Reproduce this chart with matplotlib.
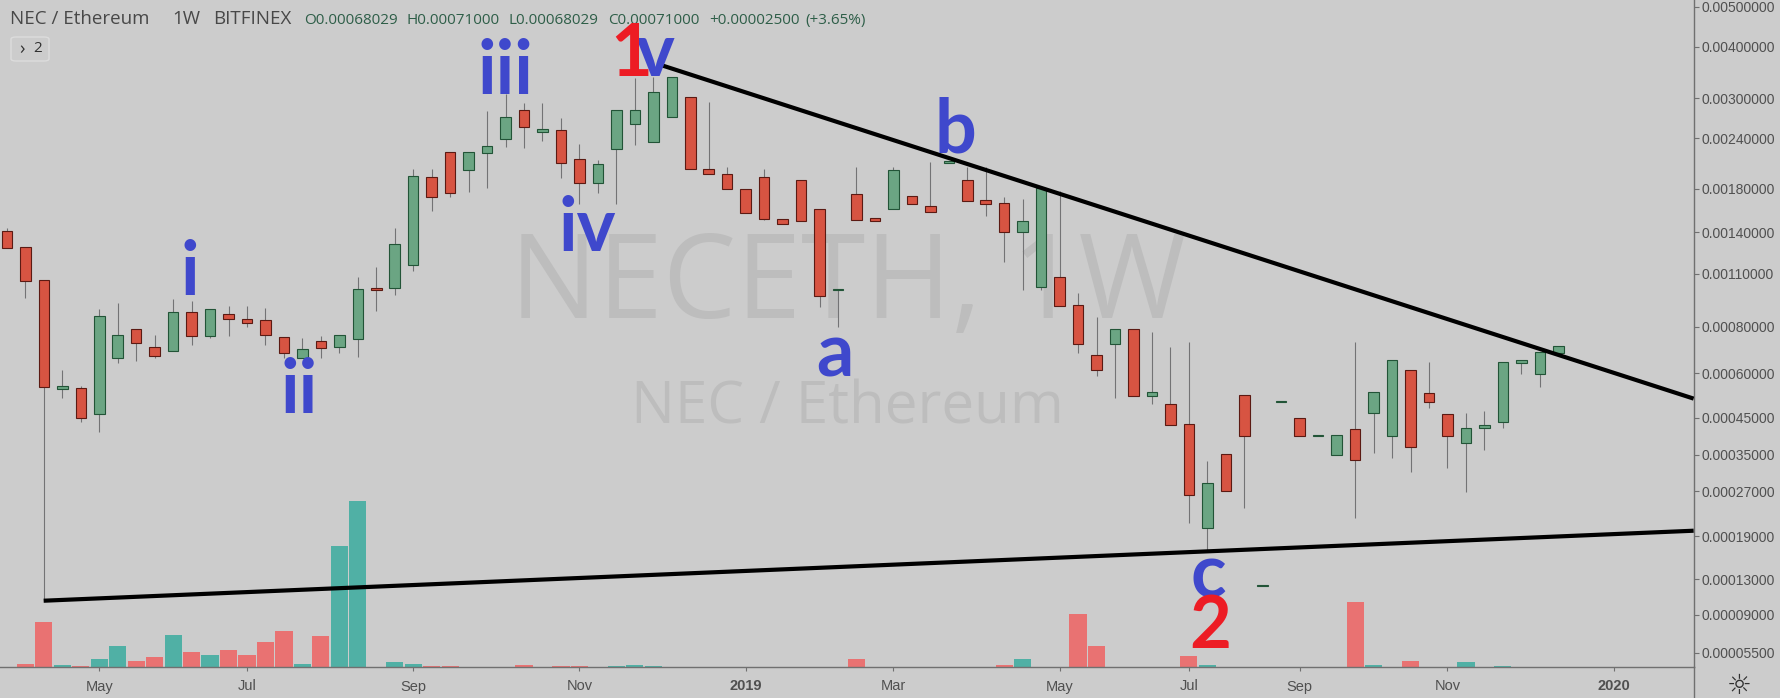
import matplotlib
matplotlib.use("Agg")
import matplotlib.pyplot as plt
import numpy as np

W, H = 1781, 698

# prices in 1e-8 ETH, weekly bars
body_top = [141351,128554,105866,55372,54668,85337,76016,79001,70474,87267,87267,89182,86376,83953,83294,74951,69866,
73266,76016,100531,100771,131054,193597,192167,221517,221517,229563,269908,281687,252272,251703,213620,207638,281687,
281687,310556,337727,301979,201817,196152,180049,192167,151523,189229,160521,100531,174967,151874,200672,172674,163035,
210489,189553,169047,165586,149522,180772,107574,91190,67188,79001,79001,53079,49306,43140,28697,35185,52265,
12259,50179,44982,40072,40072,41723,53079,65127,61169,52942,46184,42088,42854,64198,65127,68580,71042]
body_bot = [127805,105240,55019,54111,44803,46002,66068,72236,66896,68878,75690,75690,83649,81791,75876,67902,66068,
70169,70474,74173,99756,101132,115472,171391,175972,199987,221015,239237,255996,248880,208822,186333,186333,226081,
259920,235215,270821,201129,195817,179740,156863,150998,146949,149781,96418,99756,150128,149781,160243,164921,157770,
208466,168079,164637,140533,140533,101736,90807,71924,61169,71792,51829,51829,42939,26269,20257,26941,39802,
12140,49757,39802,39721,35015,33815,46306,39802,36851,49757,39802,37875,41919,43718,63797,59532,68029]
wick_hi = [143582,128554,105866,61169,55266,89021,92292,79001,76016,94533,93575,89182,90807,90807,89559,74951,74492,
75690,76016,107956,114524,143333,201129,201129,221517,221517,280109,307614,292482,291990,268394,231782,212049,281687,
335846,338861,337727,301979,294622,204127,180049,201129,151523,189229,160521,100531,204127,151874,204127,172674,209297,
210489,204127,204127,171982,169727,180772,177694,97811,84977,79001,79001,77566,70736,72951,33508,35185,52265,
12259,50179,44982,40072,40072,72951,53079,65127,61169,64318,46184,46306,47010,64198,65127,68580,71042]
wick_lo = [127805,95101,10567,51163,43805,40808,63917,64722,65945,68878,71482,74492,75551,79824,71482,65945,65945,
65945,68028,66481,87954,96823,111854,158408,171982,176983,180462,228655,227364,236548,191729,164921,175972,164921,
230865,235215,270821,201129,195817,179740,156863,150389,146949,149781,90263,79970,150128,149781,160243,164921,157770,
208466,168079,153904,117944,99756,99756,90807,68028,58895,51064,51829,49114,42939,21083,16917,26941,23703,
12140,49757,39802,39721,35015,22036,35357,34148,30932,47849,31826,26861,36173,41919,59532,54914,68029]
up_bars = [3,5,6,9,11,16,18,19,21,22,25,26,27,29,32,33,34,35,36,45,48,51,55,56,60,62,65,68,69,71,72,74,75,79,80,81,82,83,84]

# volume, arbitrary units
volume = [0,3.3,44.7,2.3,1.3,8.3,21,6,9.7,32.3,14.7,12.3,17.3,12.3,24.7,36,3.3,31,121.3,166.3,0,5,3.3,1.3,1.3,0,0,0,2.3,0,
1.3,1.3,0,1.3,2.3,1.3,0,0,0,0,0,0,0,0,0,0,8.3,0,0,0,0,0,0,0,2.3,8.3,0,0,53.3,21.3,0,0,0,0,11.3,2.3,0,0,0,0,0,0,0,64.7,2.3,0,
6,0,0,5,0,1.3,0,0,0]

upper_x, upper_y = [35.41, 91.33], [361719, 50965]
lower_x, lower_y = [1.99, 91.33], [10490, 19868]

price_ticks = [0.005,0.004,0.003,0.0024,0.0018,0.0014,0.0011,0.0008,0.0006,0.00045,0.00035,0.00027,0.00019,0.00013,0.00009,0.000055]
date_pos = [5,13,22,31,40,48,57,64,70,78,87]
date_labels = ["May","Jul","Sep","Nov","2019","Mar","May","Jul","Sep","Nov","2020"]

BG = "#cccccc"
xs = np.arange(len(body_top))
up = np.isin(xs, up_bars)
scale = 1e-8
top = np.array(body_top)*scale
bot = np.array(body_bot)*scale
hi = np.array(wick_hi)*scale
lo = np.array(wick_lo)*scale
vol = np.array(volume)

fig = plt.figure(figsize=(W/100, H/100), dpi=100, facecolor=BG)
rect = [0, 1-667/H, 1694/W, 667/H]
xlim = (-0.374, 91.35)

# volume goes underneath, along with the watermarks
vax = fig.add_axes(rect, facecolor=BG)
vax.set_xlim(xlim)
vax.set_ylim(0, 667)
vax.axis("off")
vax.bar(xs[~up], vol[~up], width=0.93, color="#e97272", linewidth=0)
vax.bar(xs[up], vol[up], width=0.93, color="#50b0a5", linewidth=0)
vax.text(848/W, 1-318/H, "NECETH, 1W", transform=fig.transFigure, family="Open Sans", fontsize=84,
         color="#bdbdbd", ha="center", va="baseline")
vax.text(847/W, 1-424/H, "NEC / Ethereum", transform=fig.transFigure, family="Open Sans", fontsize=42,
         color="#bdbdbd", ha="center", va="baseline")

ax = fig.add_axes(rect)
ax.patch.set_visible(False)
ax.set_yscale("function", functions=(lambda v: np.log(np.maximum(v+9.8e-5, 1e-9)),
                                     lambda v: np.exp(v)-9.8e-5))
ax.set_xlim(xlim)
ax.set_ylim(0.0000436, 0.005189)

ax.vlines(xs, lo, hi, color="#737375", linewidth=0.8, zorder=2)
ax.bar(xs[up], (top-bot)[up], bottom=bot[up], width=0.57, color="#6ba583", edgecolor="#225437", linewidth=0.8, zorder=3)
ax.bar(xs[~up], (top-bot)[~up], bottom=bot[~up], width=0.57, color="#d75442", edgecolor="#5b1a13", linewidth=0.8, zorder=3)

ax.plot(np.array(upper_x), np.array(upper_y)*scale, color="black", linewidth=3, zorder=4, solid_capstyle="butt")
ax.plot(np.array(lower_x), np.array(lower_y)*scale, color="black", linewidth=3, zorder=4, solid_capstyle="butt")

ax.yaxis.tick_right()
ax.set_yticks(price_ticks)
ax.set_yticklabels(["%.8f" % p for p in price_ticks], family="Liberation Sans", fontsize=10, color="#505050")
ax.minorticks_off()
ax.set_xticks(date_pos)
ax.set_xticklabels(date_labels, family="Liberation Sans", fontsize=10.5, color="#505050")
for t in ax.get_xticklabels():
    if t.get_text() in ("2019", "2020"):
        t.set_fontweight("bold")
ax.tick_params(axis="y", length=3.5, width=0.8, color="#707070", pad=2)
ax.tick_params(axis="x", length=3, width=0.8, color="#707070", pad=6)
for s in ("left", "top"):
    ax.spines[s].set_visible(False)
for s in ("right", "bottom"):
    ax.spines[s].set_color("#707070")
    ax.spines[s].set_linewidth(1)
fig.add_artist(plt.Line2D([1694/W, 1694/W], [0, 31/H], color="#707070", linewidth=1))

# hand drawn wave labels
def label(x, y, s, color="#3f48cc", size=53):
    fig.text(x/W, 1-y/H, s, family="Lato", fontweight="bold", fontsize=size, color=color, ha="center", va="baseline", zorder=6)

label(190, 295, "i")
label(505, 94, "iii")
label(587.5, 250.7, "iv")
label(299.5, 412.7, "ii")
label(655, 76, "v")
label(631.5, 76, "1", "#ed1c24", 52)
label(834.5, 376.7, "a")
label(955.5, 152.7, "b")
label(1208, 597, "c")
label(1210, 648, "2", "#ed1c24", 52)

# header line
fig.text(10/W, 1-24/H, "NEC / Ethereum", family="Open Sans", fontsize=13.5, color="#484848")
fig.text(172/W, 1-24/H, "1W", family="Open Sans", fontsize=13.5, color="#484848")
fig.text(213/W, 1-24/H, "BITFINEX", family="Open Sans", fontsize=13.5, color="#484848")
for x, s in [(304, "O0.00068029"), (406.5, "H0.00071000"), (508.5, "L0.00068029"),
             (608.5, "C0.00071000"), (709, "+0.00002500"), (805, "(+3.65%)")]:
    fig.text(x/W, 1-24/H, s, family="Open Sans", fontsize=11, color="#2e5e48")

# collapsed indicator box
fig.add_artist(matplotlib.patches.FancyBboxPatch((11/W, 1-61/H), 38/W, 24/H, boxstyle="round,pad=0,rounding_size=0.003",
                                                 transform=fig.transFigure, facecolor="none", edgecolor="#dcdcdc", linewidth=1))
fig.text(22/W, 1-49/H, "›", family="Open Sans", fontsize=13, color="#303030", ha="center", va="center")
fig.text(38/W, 1-48/H, "2", family="Open Sans", fontsize=11, color="#303030", ha="center", va="center")

fig.text(1739/W, 1-686/H, "☼", family="DejaVu Sans", fontsize=20, color="#303030", ha="center", va="center")

fig.savefig("out.png", dpi=100, facecolor=BG)
